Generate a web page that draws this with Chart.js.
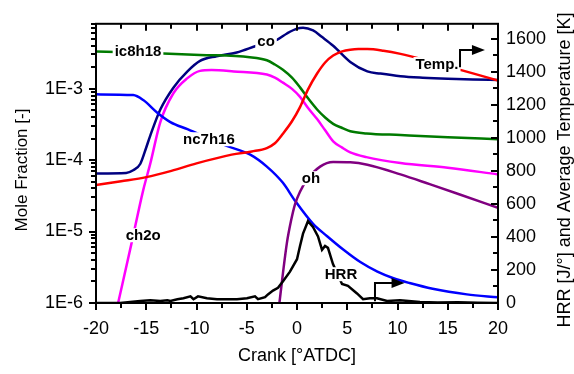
<!DOCTYPE html>
<html>
<head>
<meta charset="utf-8">
<script src="https://cdn.jsdelivr.net/npm/chart.js@4.4.0/dist/chart.umd.min.js"></script>
<style>
  html, body { margin: 0; padding: 0; background: #fff; }
  canvas { display: block; }
</style>
</head>
<body>
<canvas id="chart" width="574" height="374"></canvas>
<script>
const FONT = '"Liberation Sans", Arial, sans-serif';

// Axis ticks
const xTicks = [-20, -15, -10, -5, 0, 5, 10, 15, 20];
const yTicks = [1e-6, 1e-5, 1e-4, 1e-3];
const y2Ticks = [0, 200, 400, 600, 800, 1000, 1200, 1400, 1600];

// Average temperature [K] (right axis)
const tempX = [-20, -17.5, -15, -12.5, -10, -6.5, -4.5, -3, -2.2, -1.4, -0.5, 0.3, 1.1, 2, 2.8, 3.6, 4.5, 5.3, 6.1, 7, 8.6, 10.3, 12.5, 15, 17.5, 20];
const tempY = [714, 737, 762, 800, 845, 898, 917, 938, 967, 1025, 1100, 1186, 1293, 1389, 1456, 1498, 1523, 1533, 1537, 1537, 1527, 1508, 1475, 1432, 1390, 1347];

// Heat release rate [J/deg] (right axis)
const hrrX = [-20, -17.6, -16.6, -15.6, -14.6, -13.6, -12.9, -12.6, -11.9, -11.3, -10.6, -10.3, -9.85, -8.96, -7.96, -6.97, -5.97, -4.98, -4.18, -3.88, -3.18, -2.89, -2.39, -1.89, -1.39, -0.7, 0, 0.3, 0.6, 1.09, 1.59, 2.09, 2.49, 2.79, 3.08, 3.58, 4.48, 5.07, 5.97, 6.57, 7.26, 7.96, 8.96, 10.25, 12.24, 14, 16, 18, 20];
const hrrY = [0, 0, 6, 12, 17, 12, 17, 12, 23, 29, 40, 23, 40, 29, 23, 23, 23, 29, 40, 23, 35, 52, 75, 92, 132, 190, 265, 345, 420, 495, 460, 403, 322, 345, 334, 236, 115, 104, 58, 23, 29, 29, 12, 17, 6, 3, 5, 2, 0];

// Mole fractions (left log axis)
const coX = [-20, -17, -16.3, -15.6, -15, -14.6, -13.6, -12.3, -10.9, -9.65, -8, -6, -4, -3, -2, -1, 0, 0.6, 1.6, 2.5, 3.6, 5.3, 7, 8.3, 10.3, 12.5, 15, 17.5, 20];
const coY = [6.5e-5, 6.6e-5, 7.2e-5, 8.8e-5, 1.5e-4, 2.2e-4, 5.1e-4, 1.03e-3, 1.74e-3, 2.44e-3, 2.84e-3, 3.2e-3, 3.98e-3, 4.4e-3, 4.8e-3, 5.9e-3, 6.9e-3, 7.1e-3, 6.5e-3, 5.25e-3, 3.98e-3, 2.36e-3, 1.74e-3, 1.62e-3, 1.49e-3, 1.42e-3, 1.37e-3, 1.34e-3, 1.32e-3];

const ic8X = [-20, -17, -13.3, -9.65, -4.7, -3, -2.2, -1.4, -0.5, 0.3, 1.1, 2, 2.8, 3.6, 4.5, 5.3, 6.9, 10.3, 15, 20];
const ic8Y = [3.31e-3, 3.22e-3, 3.1e-3, 2.96e-3, 2.75e-3, 2.49e-3, 2.17e-3, 1.83e-3, 1.42e-3, 1.04e-3, 7.3e-4, 5.1e-4, 3.94e-4, 3.21e-4, 2.81e-4, 2.53e-4, 2.36e-4, 2.24e-4, 2.09e-4, 1.96e-4];

const nc7X = [-20, -16.3, -15.3, -13.9, -12.6, -10.9, -7, -4.7, -3, -1.4, -0.2, 1.6, 3, 4.6, 6.3, 8, 9.6, 11.2, 13.5, 16.9, 20];
const nc7Y = [8.3e-4, 8.1e-4, 6.9e-4, 4.6e-4, 3.4e-4, 2.7e-4, 1.58e-4, 1.2e-4, 8.1e-5, 4.8e-5, 2.7e-5, 1.28e-5, 8.6e-6, 5.6e-6, 3.74e-6, 2.75e-6, 2.22e-6, 1.9e-6, 1.58e-6, 1.32e-6, 1.2e-6];

const ch2oX = [-17.8, -16.5, -15.3, -14.6, -13.6, -12.3, -10.9, -9.65, -8.5, -6.3, -3, -2.2, -1.4, -0.5, 0.3, 1.1, 2, 2.8, 3.6, 4.5, 5.3, 6.9, 10.3, 15, 20];
const ch2oY = [1e-6, 6.5e-6, 3.8e-5, 8.9e-5, 3.4e-4, 8.6e-4, 1.4e-3, 1.77e-3, 1.82e-3, 1.74e-3, 1.57e-3, 1.42e-3, 1.21e-3, 9.9e-4, 7.66e-4, 5.36e-4, 3.74e-4, 2.61e-4, 1.83e-4, 1.49e-4, 1.28e-4, 1.1e-4, 9.1e-5, 7.8e-5, 6.3e-5];

const ohX = [-1.75, -1.4, -1.0, -0.6, -0.2, 0.3, 1.0, 2.3, 3.6, 5.3, 7, 10.3, 13.2, 16.2, 20];
const ohY = [1e-6, 2.6e-6, 7e-6, 1.4e-5, 2.4e-5, 3.6e-5, 5.3e-5, 8.1e-5, 9.4e-5, 9.3e-5, 8.6e-5, 6.3e-5, 4.6e-5, 3.3e-5, 2.15e-5];

// In-plot labels (x in crank deg, y in right-axis units, text baseline)
const labelText = ['ic8h18', 'co', 'nc7h16', 'oh', 'ch2o', 'HRR', 'Temp.'];
const labelX = [-15.82, -3.08, -8.76, 1.39, -15.3, 4.38, 13.93];
const labelY = [1496, 1554, 961, 725, 380, 144, 1416];

// Arrows pointing to the right axis
const tempArrowX = [16.22, 16.22, 18.7];
const tempArrowY = [1427, 1531, 1531];
const hrrArrowX = [7.76, 7.76, 10.7];
const hrrArrowY = [10, 121, 121];

function pts(xs, ys) {
    return xs.map((v, i) => ({ x: v, y: ys[i] }));
}

function series(data, color, axis, smooth) {
    return {
        data: data,
        borderColor: color,
        backgroundColor: color,
        borderWidth: 2.5,
        pointRadius: 0,
        fill: false,
        yAxisID: axis,
        tension: smooth ? 0.4 : 0,
        cubicInterpolationMode: smooth ? 'monotone' : 'default'
    };
}

// Labels, arrows, frame, tick marks and axis titles
const decor = {
    id: 'decor',
    afterDraw(chart) {
        const ctx = chart.ctx;
        const a = chart.chartArea;
        const x = chart.scales.x, y = chart.scales.y, y2 = chart.scales.y2;
        ctx.save();

        // labels on white boxes
        ctx.font = 'bold 15px ' + FONT;
        ctx.textAlign = 'center';
        ctx.textBaseline = 'alphabetic';
        labelText.forEach((t, i) => {
            const px = x.getPixelForValue(labelX[i]);
            const py = y2.getPixelForValue(labelY[i]);
            const w = ctx.measureText(t).width;
            ctx.fillStyle = '#fff';
            ctx.fillRect(px - w / 2 - 2, py - 12, w + 4, 14);
            ctx.fillStyle = '#000';
            ctx.fillText(t, px, py);
        });

        // arrows
        ctx.strokeStyle = '#000';
        ctx.fillStyle = '#000';
        ctx.lineWidth = 2;
        [[tempArrowX, tempArrowY], [hrrArrowX, hrrArrowY]].forEach(([ax, ay]) => {
            const p = ax.map((v, i) => [x.getPixelForValue(v), y2.getPixelForValue(ay[i])]);
            const tip = p[p.length - 1];
            ctx.beginPath();
            ctx.moveTo(p[0][0], p[0][1]);
            for (let i = 1; i < p.length - 1; i++) ctx.lineTo(p[i][0], p[i][1]);
            ctx.lineTo(tip[0] - 10, tip[1]);
            ctx.stroke();
            ctx.beginPath();
            ctx.moveTo(tip[0], tip[1]);
            ctx.lineTo(tip[0] - 13, tip[1] - 5);
            ctx.lineTo(tip[0] - 13, tip[1] + 5);
            ctx.closePath();
            ctx.fill();
        });

        // frame
        ctx.strokeRect(a.left, a.top, a.right - a.left, a.bottom - a.top);

        // tick marks: bottom/left point out, top/right point in
        ctx.beginPath();
        for (let v = -20; v <= 20; v += 2.5) {
            const px = Math.round(x.getPixelForValue(v));
            const len = Math.abs(v % 5) < 1e-9 ? 7 : 5;
            ctx.moveTo(px, a.bottom);
            ctx.lineTo(px, a.bottom + len);
            ctx.moveTo(px, a.top);
            ctx.lineTo(px, a.top + len);
        }
        for (let e = -6; e <= -3; e++) {
            for (let m = 1; m <= 9; m++) {
                const v = m * Math.pow(10, e);
                if (v > y.max) break;
                const py = Math.round(y.getPixelForValue(v));
                ctx.moveTo(a.left, py);
                ctx.lineTo(a.left - (m === 1 ? 7 : 5), py);
            }
        }
        for (let v = 0; v <= y2.max; v += 100) {
            const py = Math.round(y2.getPixelForValue(v));
            ctx.moveTo(a.right, py);
            ctx.lineTo(a.right - (v % 200 === 0 ? 7 : 5), py);
        }
        ctx.stroke();

        // axis titles
        ctx.textAlign = 'center';
        ctx.textBaseline = 'middle';
        ctx.font = '18px ' + FONT;
        ctx.fillText('Crank [°ATDC]', (a.left + a.right) / 2, 356);
        ctx.save();
        ctx.translate(22, 170);
        ctx.rotate(-Math.PI / 2);
        ctx.font = '17px ' + FONT;
        ctx.fillText('Mole Fraction [-]', 0, 0);
        ctx.restore();
        ctx.save();
        ctx.translate(565, 170);
        ctx.rotate(-Math.PI / 2);
        ctx.font = '18px ' + FONT;
        ctx.fillText('HRR [J/°] and Average Temperature [K]', 0, 0);
        ctx.restore();

        ctx.restore();
    }
};

const tickFont = { family: FONT, size: 18 };

new Chart(document.getElementById('chart'), {
    type: 'line',
    data: {
        datasets: [
            series(pts(hrrX, hrrY), '#000000', 'y2', false),
            series(pts(tempX, tempY), '#ff0000', 'y2', true),
            series(pts(ohX, ohY), '#800080', 'y', true),
            series(pts(nc7X, nc7Y), '#0000ff', 'y', true),
            series(pts(ch2oX, ch2oY), '#ff00ff', 'y', true),
            series(pts(ic8X, ic8Y), '#007a00', 'y', true),
            series(pts(coX, coY), '#000080', 'y', true)
        ]
    },
    options: {
        responsive: false,
        animation: false,
        layout: { padding: { top: 10 } },
        plugins: { legend: { display: false }, tooltip: { enabled: false } },
        scales: {
            x: {
                type: 'linear', min: -20, max: 20,
                grid: { display: false, drawTicks: false },
                border: { display: false },
                ticks: { color: '#000', font: tickFont, padding: 15, maxRotation: 0, callback: v => String(v) },
                afterBuildTicks: s => { s.ticks = xTicks.map(v => ({ value: v })); },
                afterFit: s => { s.height = 71; }
            },
            y: {
                type: 'logarithmic', position: 'left', min: 1e-6, max: 8.06e-3,
                grid: { display: false, drawTicks: false },
                border: { display: false },
                ticks: {
                    color: '#000', font: tickFont, padding: 13,
                    callback: v => '1E' + Math.round(Math.log10(v))
                },
                afterBuildTicks: s => { s.ticks = yTicks.map(v => ({ value: v })); },
                afterFit: s => { s.width = 96; }
            },
            y2: {
                type: 'linear', position: 'right', min: 0, max: 1690,
                grid: { display: false, drawTicks: false },
                border: { display: false },
                ticks: { color: '#000', font: tickFont, padding: 8, callback: v => String(v) },
                afterBuildTicks: s => { s.ticks = y2Ticks.map(v => ({ value: v })); },
                afterFit: s => { s.width = 76; }
            }
        }
    },
    plugins: [decor]
});
</script>
</body>
</html>
